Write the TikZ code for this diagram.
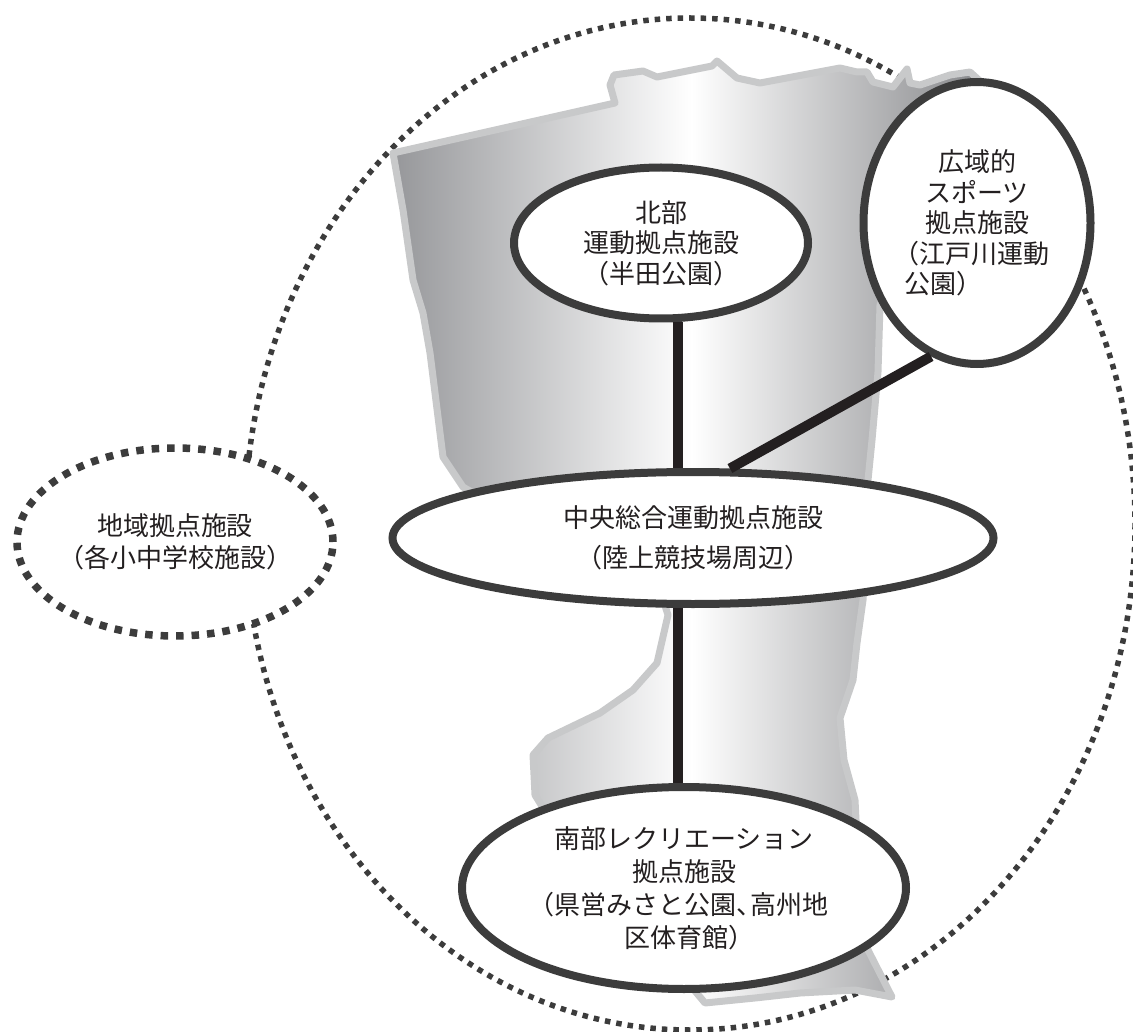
\documentclass[tikz,border=0pt]{standalone}
\usepackage{fontspec}
\setmainfont{Noto Sans CJK JP}
\usetikzlibrary{shapes.geometric}
\definecolor{ink}{HTML}{231F20}
\definecolor{ring}{HTML}{3C3C3C}
\definecolor{mapedge}{HTML}{C8C9CA}
\definecolor{mapleft}{HTML}{96979A}
\definecolor{mapright}{HTML}{858689}
\newcommand\lpar{\kern-.45em（}
\newcommand\rpar{）\kern-.45em}
\newcommand\tou{、\kern-.45em}
\tikzset{
  site/.style={ellipse, draw=ring, line width=8pt, fill=white, inner sep=0pt, align=center, text=ink, font=\fontsize{26}{30.5}\selectfont},
  localsite/.style={site, line width=7.5pt, dash pattern=on 7.5pt off 8pt},
  link/.style={draw=ink, line width=10pt},
  area/.style={draw=ring, line width=5.5pt, dash pattern=on 5.5pt off 6pt},
  mapfill/.style={draw=mapedge, line width=7pt, line join=round, left color=mapleft, right color=mapright, middle color=white}
}
\begin{document}
\begin{tikzpicture}[x=1pt,y=-1pt]
\useasboundingbox (0,0) rectangle (1133,1032);
% outer area
\draw[area] (690,524) ellipse [x radius=445, y radius=506];
% map
\shadedraw[mapfill] (393,153) -- (615,103) -- (610,85) -- (614,75) -- (643,71) -- (657,77) -- (712,66) -- (717,61) -- (737,78) -- (760,83)
  -- (840,68) -- (857,72) -- (867,72) -- (873,82) -- (893,87) -- (907,69) -- (910,83) -- (920,85) -- (950,75) -- (970,72) -- (990,90)
  -- (972,140) -- (950,200) -- (895,275) -- (880,305) -- (878,372) -- (872,440) -- (868,480) -- (866,560) -- (863,600) -- (857,643)
  -- (853,680) -- (840,718) -- (844,760) -- (855,800) -- (860,900) -- (868,950) -- (892,997) -- (855,990) -- (800,993) -- (755,998)
  -- (705,1003) -- (690,985) -- (600,900) -- (535,795) -- (533,755) -- (548,738) -- (600,713) -- (633,690) -- (657,663) -- (668,615)
  -- (660,590) -- (520,520) -- (463,487) -- (443,457) -- (430,353) -- (423,313) -- (413,280) -- (403,210) -- cycle;
% facilities
\node[site, minimum width=294pt, minimum height=151pt] (north) at (661,243) {北部\\運動拠点施設\\\lpar 半田公園\rpar};
\node[site, minimum width=227pt, minimum height=282pt] (wide) at (977,223) {広域的\\スポーツ\\拠点施設\\\lpar 江戸川運動\\公園\rpar\hphantom{江戸川}};
\node[site, minimum width=601pt, minimum height=132pt, font=\fontsize{26}{40}\selectfont] (centre) at (693,538) {中央総合運動拠点施設\\\lpar 陸上競技場周辺\rpar};
\node[site, minimum width=444pt, minimum height=202pt, font=\fontsize{26}{33}\selectfont] (south) at (684,888) {南部レクリエーション\\拠点施設\\\lpar 県営みさと公園\tou 高州地\\区体育館\rpar};
\node[localsite, minimum width=316pt, minimum height=188pt, font=\fontsize{26}{32}\selectfont] (local) at (175,542) {地域拠点施設\\\lpar 各小中学校施設\rpar};
% links
\draw[link] ([xshift=17pt]north.south) -- ([xshift=17pt]north.south |- centre.north);
\draw[link] ([xshift=-15pt]centre.south) -- ([xshift=-15pt]centre.south |- south.north);
\draw[link] (centre.62) -- (wide.251);
\end{tikzpicture}
\end{document}
